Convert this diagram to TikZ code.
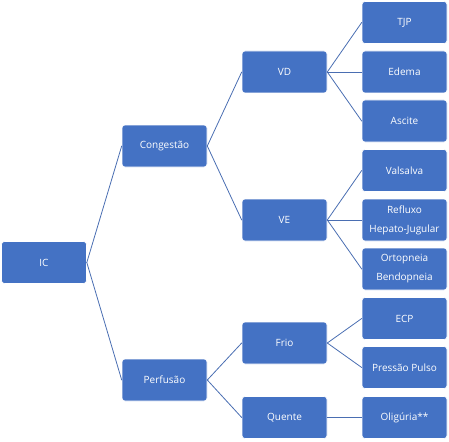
\documentclass[tikz,border=0pt]{standalone}
\usepackage{fontspec}
\setmainfont{Open Sans}
\definecolor{boxblue}{HTML}{4472C4}
\definecolor{linkblue}{HTML}{4A6EB2}

\begin{document}
\begin{tikzpicture}[line cap=round, line join=round, x=1pt, y=-1pt,
    box/.style={draw=white, line width=0.6pt, fill=boxblue, text=white, rounded corners=3pt,
        minimum width=85pt, minimum height=42pt, inner sep=0pt, align=center,
        font=\fontsize{10}{19}\selectfont},
    link/.style={draw=linkblue, line width=0.8pt}]

                \useasboundingbox (0,0) rectangle (449,441);

                \node[box] (ic) at (44, 262.5) {IC};

                \node[box] (congestao) at (164.5, 146) {Congestão};
                \node[box] (perfusao) at (164.5, 380) {Perfusão};

                \node[box] (vd) at (284.5, 72) {VD};
                \node[box] (ve) at (284.5, 220) {VE};
                \node[box] (frio) at (284.5, 343) {Frio};
                \node[box] (quente) at (284.5, 417.5) {Quente};

                \node[box] (tjp) at (404.5, 22.5) {TJP};
                \node[box] (edema) at (404.5, 72) {Edema};
                \node[box] (ascite) at (404.5, 121) {Ascite};
                \node[box] (valsalva) at (404.5, 170.5) {Valsalva};
                \node[box] (refluxo) at (404.5, 220) {Refluxo\\Hepato-Jugular};
                \node[box] (ortopneia) at (404.5, 269) {Ortopneia\\Bendopneia};
                \node[box] (ecp) at (404.5, 318.5) {ECP};
                \node[box] (pulso) at (404.5, 367.5) {Pressão Pulso};
                \node[box] (oliguria) at (404.5, 417.5) {Oligúria**};

                \draw[link] (ic.east) -- (congestao.west);
                \draw[link] (ic.east) -- (perfusao.west);

                \draw[link] (congestao.east) -- (vd.west);
                \draw[link] (congestao.east) -- (ve.west);
                \draw[link] (perfusao.east) -- (frio.west);
                \draw[link] (perfusao.east) -- (quente.west);

                \draw[link] (vd.east) -- (tjp.west);
                \draw[link] (vd.east) -- (edema.west);
                \draw[link] (vd.east) -- (ascite.west);
                \draw[link] (ve.east) -- (valsalva.west);
                \draw[link] (ve.east) -- (refluxo.west);
                \draw[link] (ve.east) -- (ortopneia.west);
                \draw[link] (frio.east) -- (ecp.west);
                \draw[link] (frio.east) -- (pulso.west);
                \draw[link] (quente.east) -- (oliguria.west);

\end{tikzpicture}
\end{document}
